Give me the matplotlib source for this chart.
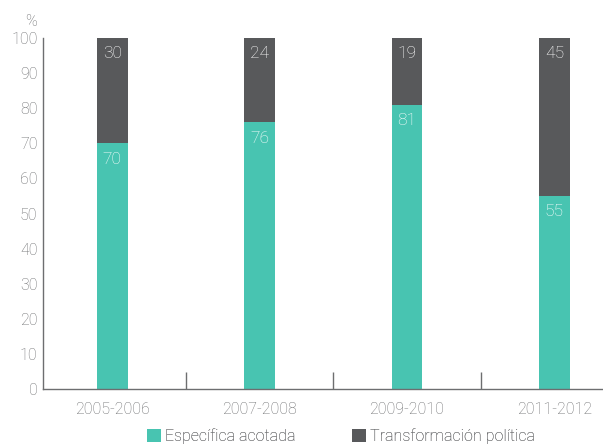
import matplotlib
matplotlib.use("Agg")
import matplotlib.pyplot as plt
import numpy as np

periods = ['2005-2006', '2007-2008', '2009-2010', '2011-2012']
especifica = [70, 76, 81, 55]
transformacion = [30, 24, 19, 45]
series_names = ['Específica acotada', 'Transformación política']

TEAL = '#48c4b1'
DARK = '#58595b'
TXT = '#6d6e70'

plt.rcParams['font.family'] = ['Roboto', 'DejaVu Sans']
plt.rcParams['font.weight'] = 'light'

fig = plt.figure(figsize=(6.03, 4.44), dpi=100)
ax = fig.add_axes([43 / 603, 1 - 389 / 444, 1 - 43 / 603, (389 - 38) / 444])

x = np.arange(len(periods))
w = 0.21
b1 = ax.bar(x, especifica, w, color=TEAL, label=series_names[0])
b2 = ax.bar(x, transformacion, w, bottom=especifica, color=DARK, label=series_names[1])

for i in range(len(periods)):
    ax.text(x[i], especifica[i] - 4.5, str(especifica[i]), ha='center', va='center',
            color='white', fontsize=12.5)
    ax.text(x[i], especifica[i] + transformacion[i] - 4.5, str(transformacion[i]),
            ha='center', va='center', color='white', fontsize=12.5)

ax.set_xlim(-0.47, 3.33)
ax.set_ylim(0, 100)
ax.set_yticks(range(0, 101, 10))
ax.tick_params(axis='y', length=0, pad=4, labelcolor=TXT, labelsize=11.5)

# group separators as ticks on the x axis, labels at bar centres
ax.set_xticks(x)
ax.set_xticklabels(periods)
ax.set_xticks([0.5, 1.5, 2.5], minor=True)
ax.tick_params(axis='x', which='major', length=0, pad=9, labelcolor=TXT, labelsize=11.5)
ax.tick_params(axis='x', which='minor', direction='in', length=12, color=TXT, width=1)

for s in ['top', 'right']:
    ax.spines[s].set_visible(False)
for s in ['left', 'bottom']:
    ax.spines[s].set_color(TXT)
    ax.spines[s].set_linewidth(1)

fig.text(31 / 603, 1 - 21 / 444, '%', ha='center', va='center', color=TXT, fontsize=11.5)

# one legend per entry so each starts where it does in the original
for handle, name, left in [(b1, series_names[0], 147), (b2, series_names[1], 352)]:
    leg = fig.legend(handles=[handle], labels=[name], loc='center left',
                     bbox_to_anchor=(left / 603, 1 - 436 / 444), frameon=False,
                     fontsize=11.5, borderpad=0, borderaxespad=0,
                     handlelength=0.9, handleheight=0.9, handletextpad=0.25,
                     labelcolor=TXT)
    fig.add_artist(leg)

fig.savefig('out.png', dpi=100)
